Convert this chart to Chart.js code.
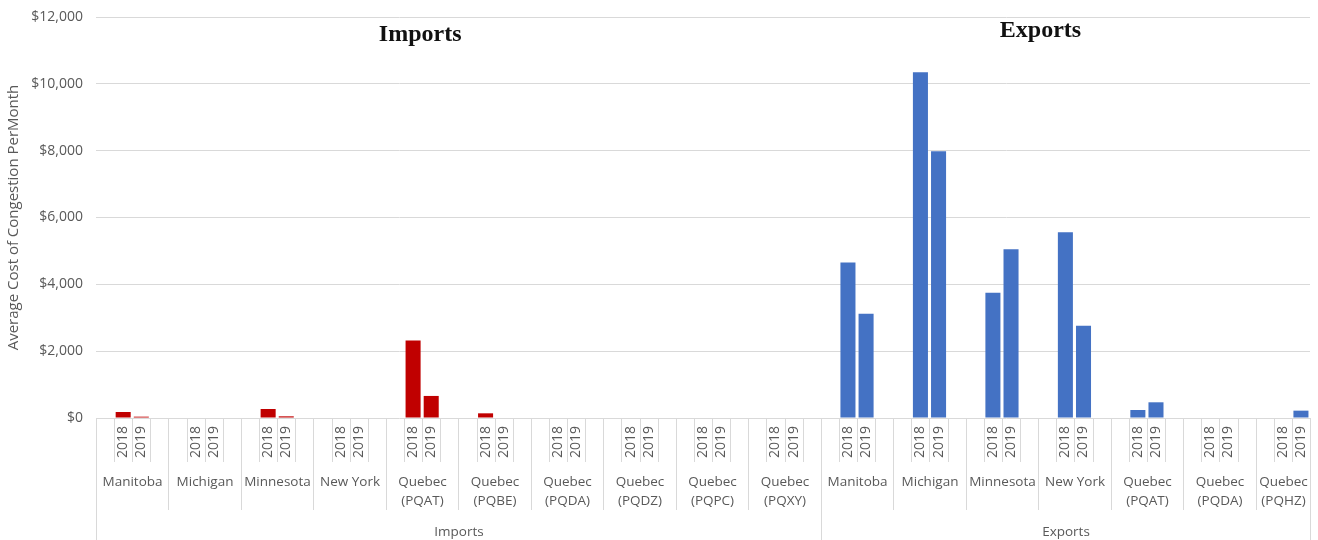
<!DOCTYPE html>
<html>
<head>
<meta charset="utf-8">
<script src="https://cdn.jsdelivr.net/npm/chart.js@4.4.1/dist/chart.umd.min.js"></script>
<style>
  html, body { margin: 0; padding: 0; background: #fff; }
  #wrap { width: 1318px; height: 540px; position: relative; }
</style>
</head>
<body>
<div id="wrap"><canvas id="cong"></canvas></div>
<script>
// Durchschnittliche Engpasskosten pro Monat, je Schnittstelle und Jahr
const YEARS = ["2018", "2019"];

const IMPORT_REGIONS = [
  ["Manitoba"], ["Michigan"], ["Minnesota"], ["New York"],
  ["Quebec", "(PQAT)"], ["Quebec", "(PQBE)"], ["Quebec", "(PQDA)"],
  ["Quebec", "(PQDZ)"], ["Quebec", "(PQPC)"], ["Quebec", "(PQXY)"]
];
const IMPORTS_2018 = [180, 0, 270, 0, 2320, 140, 0, 0, 0, 0];
const IMPORTS_2019 = [40, 0, 50, 0, 660, 0, 0, 0, 0, 0];

const EXPORT_REGIONS = [
  ["Manitoba"], ["Michigan"], ["Minnesota"], ["New York"],
  ["Quebec", "(PQAT)"], ["Quebec", "(PQDA)"], ["Quebec", "(PQHZ)"]
];
const EXPORTS_2018 = [4650, 10350, 3750, 5560, 240, 0, 0];
const EXPORTS_2019 = [3120, 7980, 5050, 2760, 470, 0, 220];

const Y_MAX = 12000;
const Y_STEP = 2000;

const RED = "#c00000";
const BLUE = "#4472c4";
const GRID = "#d9d9d9";
const TEXT = "#595959";
const FONT = "'Open Sans', sans-serif";

// Jede Region belegt 4 Slots: Leerslot, 2018, 2019, Leerslot (letzte Region ohne Endslot)
const sections = [
  { name: "Imports", regions: IMPORT_REGIONS, v18: IMPORTS_2018, v19: IMPORTS_2019 },
  { name: "Exports", regions: EXPORT_REGIONS, v18: EXPORTS_2018, v19: EXPORTS_2019 }
];

const slots = [];        // Kategorie-Labels der x-Achse
const importData = [];
const exportData = [];
const groups = [];       // {start, n, label, section}
sections.forEach((sec, si) => {
  sec.regions.forEach((reg, ri) => {
    const last = si === sections.length - 1 && ri === sec.regions.length - 1;
    const start = slots.length;
    const pattern = last ? ["", YEARS[0], YEARS[1]] : ["", YEARS[0], YEARS[1], ""];
    pattern.forEach(p => {
      slots.push(p);
      let v = null;
      if (p === YEARS[0]) v = sec.v18[ri];
      if (p === YEARS[1]) v = sec.v19[ri];
      importData.push(si === 0 ? v : null);
      exportData.push(si === 1 ? v : null);
    });
    groups.push({ start, n: pattern.length, label: reg, section: si });
  });
});

const multiAxis = {
  id: "multiAxis",
  afterDraw(chart) {
    const { ctx, chartArea: a, scales: { x } } = chart;
    const slotW = (a.right - a.left) / slots.length;
    const edge = i => Math.round(x.getPixelForValue(i) - slotW / 2) + 0.5;
    const base = a.bottom;

    ctx.save();
    ctx.strokeStyle = GRID;
    ctx.lineWidth = 1;
    const vline = (px, y1) => { ctx.beginPath(); ctx.moveTo(px, base); ctx.lineTo(px, y1); ctx.stroke(); };

    groups.forEach((g, gi) => {
      const left = edge(g.start);
      const right = edge(g.start + g.n);
      const sectionStart = gi === 0 || groups[gi - 1].section !== g.section;
      vline(left, sectionStart ? 540 : base + 92);
      // Trennlinien um die Jahreslabels
      for (let k = 1; k < g.n; k++) vline(edge(g.start + k), base + 44);
      // Jahreslabels, gedreht
      ctx.fillStyle = TEXT;
      ctx.font = "14px " + FONT;
      ctx.textAlign = "center";
      ctx.textBaseline = "middle";
      [1, 2].forEach(k => {
        const cx = x.getPixelForValue(g.start + k);
        ctx.save();
        ctx.translate(cx, base + 24);
        ctx.rotate(-Math.PI / 2);
        ctx.fillText(slots[g.start + k], 0, 0);
        ctx.restore();
      });
      // Regionsname
      ctx.font = "13.5px " + FONT;
      const mid = (left + right) / 2;
      g.label.forEach((line, li) => ctx.fillText(line, mid, base + 64 + li * 19.5));
    });
    // rechte Außenkante
    vline(edge(slots.length), 540);

    // Abschnittslabels unten
    sections.forEach((sec, si) => {
      const gs = groups.filter(g => g.section === si);
      const l = edge(gs[0].start);
      const r = edge(gs[gs.length - 1].start + gs[gs.length - 1].n);
      ctx.fillText(sec.name, (l + r) / 2, base + 114);
    });

    // Überschriften im Diagramm
    ctx.fillStyle = "#111";
    ctx.font = "bold 24px 'Liberation Serif', serif";
    const w = a.right - a.left;
    ctx.fillText("Imports", a.left + 0.267 * w, 35);
    ctx.fillText("Exports", a.left + 0.778 * w, 31);
    ctx.restore();
  }
};

new Chart(document.getElementById("cong"), {
  type: "bar",
  data: {
    labels: slots,
    datasets: [
      { label: "Imports", data: importData, backgroundColor: RED, grouped: false,
        barPercentage: 0.83, categoryPercentage: 1 },
      { label: "Exports", data: exportData, backgroundColor: BLUE, grouped: false,
        barPercentage: 0.83, categoryPercentage: 1 }
    ]
  },
  options: {
    responsive: true, maintainAspectRatio: false, animation: false,
    layout: { padding: { top: 17, right: 8, left: 0, bottom: 0 } },
    plugins: { legend: { display: false }, tooltip: { enabled: false } },
    scales: {
      x: {
        ticks: { display: false },
        grid: { display: false },
        border: { display: false },
        afterFit: s => { s.height = 122; }
      },
      y: {
        min: 0, max: Y_MAX,
        ticks: {
          stepSize: Y_STEP, color: TEXT, padding: 13,
          font: { family: FONT, size: 14 },
          callback: v => "$" + v.toLocaleString("en-US")
        },
        grid: { color: GRID, drawTicks: false },
        border: { display: false },
        title: {
          display: true, text: "Average Cost of Congestion PerMonth",
          color: TEXT, font: { family: FONT, size: 15 }, padding: { top: 5, bottom: 0 }
        },
        afterFit: s => { s.width = 96; s.paddingTop = 0; s.paddingBottom = 0; }
      }
    }
  },
  plugins: [multiAxis]
});
</script>
</body>
</html>
